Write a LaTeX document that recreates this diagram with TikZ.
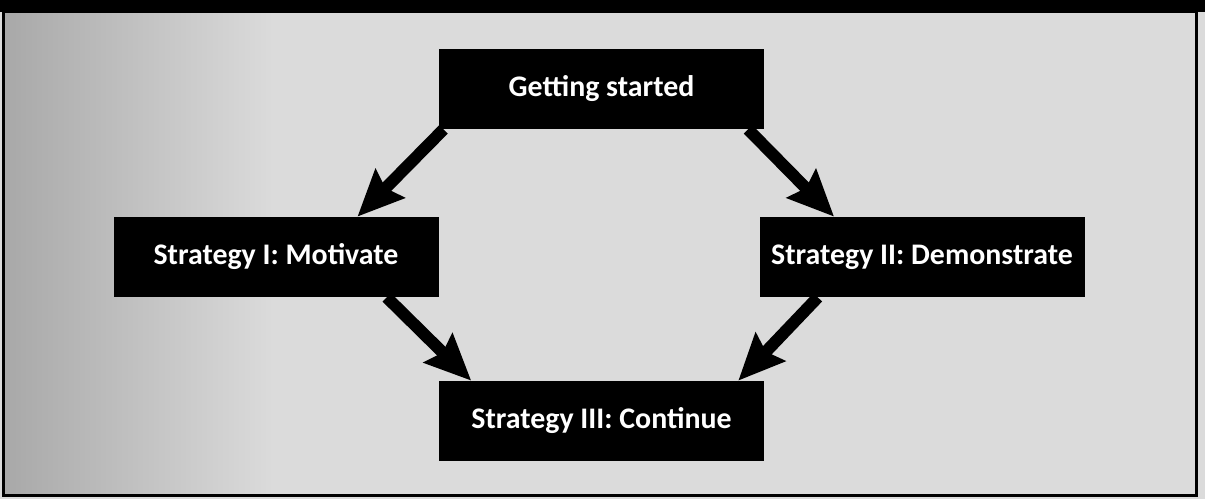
\documentclass[tikz,border=0pt]{standalone}
\usepackage{fontspec}
\setmainfont{Carlito}
\usepackage{tikz}
\usetikzlibrary{
  arrows.meta,
  calc,
  positioning,
  shadings
}
\tikzset{>={Stealth[length=0.92cm,width=0.8cm,inset=0.12cm]}}
\tikzset{
  stage/.style={fill=black,text=white,minimum width=6.5cm,minimum height=1.6cm,
    inner sep=0pt,font=\bfseries\fontsize{17}{20}\selectfont},
  flow/.style={->,line width=0.24cm,draw=black}
}

\begin{document}
\begin{tikzpicture}[thin]
				\useasboundingbox (0,0) rectangle (24.1,9.98);
				\fill[gray!28] (0,0) rectangle (24.1,9.98);
				\shade[left color=gray!68,right color=gray!28] (0.07,0.08) rectangle (5.5,9.74);
				\fill[black] (0,9.74) rectangle (24.1,9.98);
				\draw[line width=0.06cm] (0.07,0.08) rectangle (23.93,9.74);
				\node[stage] (start) at (12.03,8.2) {Getting started};
				\node[stage] (motivate) at (5.52,4.84) {Strategy I: Motivate};
				\node[stage] (demo) at (18.44,4.84) {Strategy II: Demonstrate};
				\node[stage] (cont) at (12.03,1.56) {Strategy III: Continue};
				\draw[flow] ($(start.south west)!0.03!(start.south)$) -- ($(motivate.north)!0.5!(motivate.north east)$);
				\draw[flow] ($(start.south east)!0.1!(start.south)$) -- ($(demo.north west)!0.46!(demo.north)$);
				\draw[flow] ($(motivate.south)!0.68!(motivate.south east)$) -- ($(cont.north west)!0.2!(cont.north)$);
				\draw[flow] ($(demo.south west)!0.36!(demo.south)$) -- ($(cont.north east)!0.16!(cont.north)$);
			\end{tikzpicture}
\end{document}
